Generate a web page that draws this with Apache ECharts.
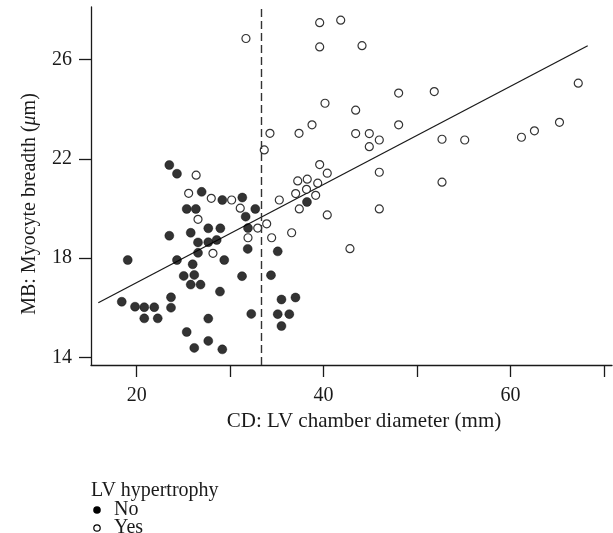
<!DOCTYPE html>
<html>
<head>
<meta charset="utf-8">
<script src="https://cdn.jsdelivr.net/npm/echarts@6/dist/echarts.min.js"></script>
<style>
html,body{margin:0;padding:0;background:#fff;}
#chart{width:613px;height:533px;}
</style>
</head>
<body>
<div id="chart"></div>
<script>
// LV hypertrophy = No (filled)
const noCD = [23.49,24.31,26.95,25.35,26.33,23.49,25.78,26.56,19.04,24.31,26.56,25.99,25.03,26.16,25.78,26.83,18.40,19.82,20.81,21.88,20.81,22.25,23.67,23.67,25.35,26.16,29.16,31.30,32.69,31.66,27.66,28.95,31.91,27.66,28.56,29.37,31.88,35.09,28.91,31.27,34.37,35.49,36.99,32.26,35.09,36.33,35.49,27.66,27.66,29.16,38.22];
const noMB = [21.75,21.40,20.67,19.98,19.98,18.90,19.02,18.63,17.92,17.92,18.21,17.75,17.28,17.32,16.93,16.93,16.24,16.04,16.02,16.02,15.57,15.57,16.42,16.00,15.02,14.38,20.34,20.44,19.98,19.67,19.20,19.20,19.21,18.64,18.73,17.92,18.37,18.27,16.65,17.27,17.31,16.33,16.41,15.75,15.74,15.74,15.26,15.56,14.66,14.32,20.26];
// LV hypertrophy = Yes (open)
const yesCD = [26.36,25.56,26.56,27.98,30.16,31.08,32.95,33.91,31.91,34.44,36.58,28.16,35.26,33.65,37.23,38.25,37.01,38.17,37.40,39.58,41.83,39.58,44.11,40.15,43.43,48.03,51.84,38.76,43.43,44.89,45.96,44.89,48.03,52.67,39.58,40.39,45.96,52.67,39.37,39.15,40.39,45.96,42.82,31.69,34.26,37.37,55.10,61.17,62.56,65.24,67.25];
const yesMB = [21.34,20.61,19.56,20.41,20.34,20.01,19.21,19.38,18.82,18.82,19.02,18.19,20.34,22.36,21.11,21.18,20.60,20.77,19.98,27.49,27.59,26.51,26.56,24.24,23.96,24.65,24.71,23.37,23.02,23.02,22.76,22.49,23.37,22.79,21.77,21.42,21.46,21.06,21.02,20.53,19.74,19.98,18.38,26.85,23.03,23.03,22.76,22.87,23.13,23.47,25.05];
// fitted regression line end points
const fitCD = [15.89, 68.26];
const fitMB = [16.20, 26.56];
// cut-off for chamber diameter
const cutCD = 33.3;
// axis ticks
const xTicks = [20, 30, 40, 50, 60, 70];
const xLabels = [20, 40, 60];
const yTicks = [14, 18, 22, 26];
// legend
const legendTitle = 'LV hypertrophy';
const groups = ['No', 'Yes'];

const FONT = 'Liberation Serif';
const INK = '#1a1a1a';

const zip = (a, b) => a.map((v, i) => [v, b[i]]);

const chart = echarts.init(document.getElementById('chart'), null, {renderer: 'canvas'});
chart.setOption({
  animation: false,
  backgroundColor: '#fff',
  grid: {left: 91, right: 1, top: 7, bottom: 168, containLabel: false},
  xAxis: {
    type: 'value', min: 15.11, max: 70.86,
    axisLine: {show: true, onZero: false, lineStyle: {color: INK, width: 1.3}},
    axisTick: {show: true, customValues: xTicks, length: 12, lineStyle: {color: INK, width: 1.3}},
    axisLabel: {customValues: xLabels, margin: 21, fontFamily: FONT, fontSize: 20, color: INK},
    splitLine: {show: false}
  },
  yAxis: {
    type: 'value', min: 13.69, max: 28.12,
    axisLine: {show: true, onZero: false, lineStyle: {color: INK, width: 1.3}},
    axisTick: {show: true, customValues: yTicks, length: 12, lineStyle: {color: INK, width: 1.3}},
    axisLabel: {customValues: yTicks, margin: 19, fontFamily: FONT, fontSize: 20, color: INK},
    splitLine: {show: false}
  },
  graphic: [
    {type: 'text', x: 91, y: 491, style: {text: legendTitle, font: '20px "Liberation Serif"', fill: INK, verticalAlign: 'middle'}},
    {type: 'circle', shape: {cx: 97, cy: 510, r: 3.8}, style: {fill: '#000'}},
    {type: 'text', x: 114, y: 510, style: {text: groups[0], font: '20px "Liberation Serif"', fill: INK, verticalAlign: 'middle'}},
    {type: 'circle', shape: {cx: 97, cy: 528, r: 3.2}, style: {fill: '#fff', stroke: '#000', lineWidth: 1.2}},
    {type: 'text', x: 114, y: 528, style: {text: groups[1], font: '20px "Liberation Serif"', fill: INK, verticalAlign: 'middle'}},
    {type: 'text', x: 364, y: 421, style: {text: 'CD: LV chamber diameter (mm)', font: '21px "Liberation Serif"', fill: INK, align: 'center', verticalAlign: 'middle'}},
    {type: 'text', x: 30, y: 204, rotation: Math.PI / 2,
      style: {
        text: '{n|MB: Myocyte breadth (}{i|μ}{n|m)}',
        align: 'center', verticalAlign: 'middle',
        rich: {
          n: {fontFamily: FONT, fontSize: 20, fill: INK, color: INK},
          i: {fontFamily: FONT, fontSize: 20, fontStyle: 'italic', fill: INK, color: INK}
        }
      }}
  ],
  series: [
    {
      name: 'fit', type: 'line', data: zip(fitCD, fitMB), symbol: 'none', silent: true, z: 1,
      lineStyle: {color: INK, width: 1.3},
      markLine: {
        silent: true, symbol: 'none', label: {show: false},
        lineStyle: {color: '#333', width: 1.4, type: [8, 4]},
        data: [{xAxis: cutCD}]
      }
    },
    {
      name: groups[0], type: 'scatter', data: zip(noCD, noMB), symbol: 'circle', symbolSize: 9, z: 3,
      itemStyle: {color: '#000', borderColor: '#000', borderWidth: 0.5}
    },
    {
      name: groups[1], type: 'scatter', data: zip(yesCD, yesMB), symbol: 'circle', symbolSize: 8, z: 3,
      itemStyle: {color: '#fff', borderColor: '#000', borderWidth: 1.2}
    }
  ]
});
</script>
</body>
</html>
